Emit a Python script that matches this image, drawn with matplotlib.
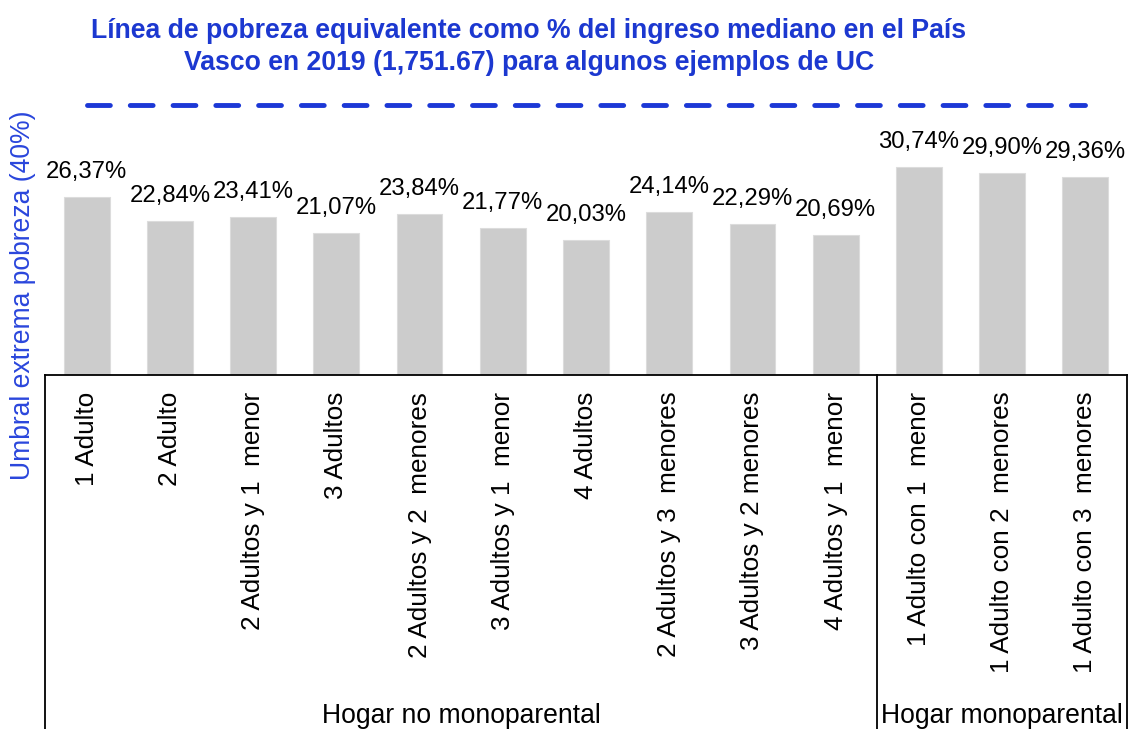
import matplotlib
matplotlib.use("Agg")
import matplotlib.pyplot as plt
from matplotlib.transforms import blended_transform_factory

plt.rcParams['font.family'] = ['Liberation Sans', 'DejaVu Sans']

categories = ["1 Adulto", "2 Adulto", "2 Adultos y 1  menor", "3 Adultos",
              "2 Adultos y 2  menores", "3 Adultos y 1  menor", "4 Adultos",
              "2 Adultos y 3  menores", "3 Adultos y 2 menores", "4 Adultos y 1  menor",
              "1 Adulto con 1  menor", "1 Adulto con 2  menores", "1 Adulto con 3  menores"]
values = [26.37, 22.84, 23.41, 21.07, 23.84, 21.77, 20.03, 24.14, 22.29, 20.69,
          30.74, 29.90, 29.36]
threshold = 40
groups = ["Hogar no monoparental", "Hogar monoparental"]
group_sizes = [10, 3]
title = ("Línea de pobreza equivalente como % del ingreso mediano en el País\n"
         "Vasco en 2019 (1,751.67) para algunos ejemplos de UC")
ylabel = "Umbral extrema pobreza (40%)"

W, H = 1128, 729
fig = plt.figure(figsize=(W / 100, H / 100), dpi=100)
ax_left, ax_right = 45 / W, 1127 / W
ax_bottom_px, ax_top_px = 375, 90
ax = fig.add_axes([ax_left, 1 - ax_bottom_px / H, ax_right - ax_left,
                   (ax_bottom_px - ax_top_px) / H])

blue_title = '#1c38d0'
blue_line = '#1c38d6'
blue_label = '#2a46dc'

x = list(range(len(categories)))
ax.bar(x, values, width=0.55, color='#cccccc', edgecolor='#dcdcdc', linewidth=0.8)
ax.set_xlim(-0.5, len(categories) - 0.5)
ax.set_ylim(0, (ax_bottom_px - ax_top_px) / 6.76)

for xi, v in zip(x, values):
    ax.annotate(f"{v:.2f}%".replace('.', ','), (xi, v), xytext=(0, 10),
                textcoords='offset points', ha='center', va='bottom', fontsize=17.2,
                color='black')

ax.plot([0, len(categories) - 1], [threshold, threshold], color=blue_line, lw=3.5,
        dashes=(4.7, 4.1), dash_capstyle='round', clip_on=False)

for s in ['top', 'right', 'left']:
    ax.spines[s].set_visible(False)
ax.spines['bottom'].set_linewidth(1.3)
ax.set_yticks([])
ax.set_xticks(x)
ax.set_xticklabels(categories, rotation=90, fontsize=18.8)
ax.tick_params(axis='x', length=0, pad=12)

# group frame lines
tr = blended_transform_factory(ax.transData, fig.transFigure)
yb = 1 - ax_bottom_px / H
start = -0.5
bounds = [start]
for gs in group_sizes:
    start += gs
    bounds.append(start)
for b in bounds:
    ax.plot([b, b], [0, yb], color='black', lw=1.3, transform=tr, clip_on=False)
for g, lo, hi in zip(groups, bounds[:-1], bounds[1:]):
    ax.text((lo + hi) / 2, 1 - 716 / H, g, transform=tr, ha='center', va='center',
            fontsize=19.1)

fig.text(529 / W, 1 - 47 / H, title, ha='center', va='center', fontsize=19.2,
         fontweight='bold', color=blue_title, linespacing=1.3)
fig.text(23 / W, 1 - 295 / H, ylabel, rotation=90, ha='center', va='center',
         fontsize=19.1, color=blue_label)

fig.savefig('out.png', dpi=100)
